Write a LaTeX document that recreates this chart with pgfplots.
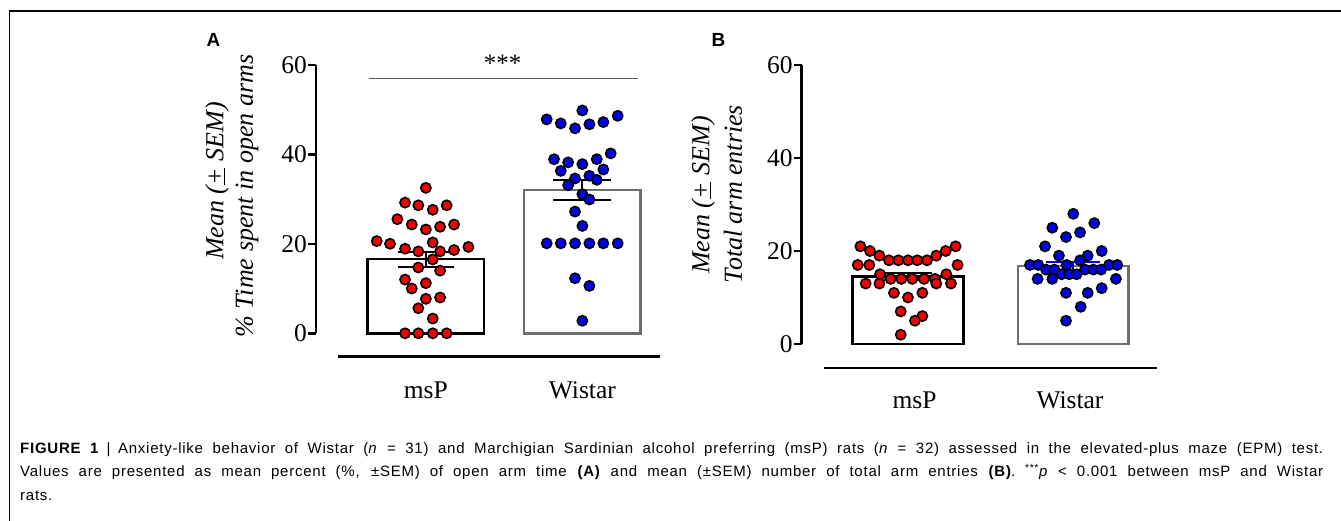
\documentclass[border=0pt]{standalone}
\usepackage{pgfplots}
\pgfplotsset{compat=1.18}
\usepackage{pgfplotstable}
\usepackage{fontspec}
\setmainfont{Liberation Serif}
\newfontfamily\arial{Liberation Sans}
\newfontfamily\arialcap[LetterSpace=5]{Liberation Sans}

\definecolor{ratred}{RGB}{240,0,0}
\definecolor{ratblue}{RGB}{0,0,235}
\definecolor{bargray}{RGB}{110,110,110}
\definecolor{sigline}{RGB}{90,90,90}

% Panel A: % time in open arms
\pgfplotstableread{
x y
1.000 32.5
0.867 29.2
0.952 28.6
1.044 27.6
1.133 28.6
0.818 25.5
0.910 24.3
1.000 23.2
1.091 23.8
1.180 24.3
0.686 20.6
0.771 20.0
1.044 20.3
0.867 18.9
0.952 18.3
1.091 18.3
1.180 18.6
1.272 19.3
1.044 16.5
0.952 14.7
1.091 14.0
0.867 12.0
1.000 11.2
0.910 10.0
1.000 7.7
1.091 8.0
0.952 5.6
1.044 3.3
0.867 0.0
0.952 0.0
1.044 0.0
1.133 0.0
}\AmsP

\pgfplotstableread{
x y
2.000 49.8
1.772 47.8
1.862 46.9
1.953 45.8
2.045 46.7
2.134 47.2
2.226 48.6
2.181 40.2
1.819 38.9
1.909 38.2
2.000 37.8
2.092 38.9
1.862 36.3
2.134 36.6
1.953 34.6
2.045 35.2
2.092 34.3
1.909 33.1
2.000 31.1
2.045 29.9
1.953 27.2
2.000 24.0
1.772 20.1
1.862 20.1
1.953 20.1
2.045 20.1
2.134 20.1
2.226 20.1
1.953 12.3
2.045 10.6
2.000 2.8
}\AWistar

% Panel B: total arm entries
\pgfplotstableread{
x y
0.712 21
0.770 20
0.827 19
0.885 18
0.942 18
1.000 18
1.056 18
1.115 18
1.171 19
1.228 20
1.288 21
0.696 17
0.766 17
1.300 17
0.831 15
1.232 15
0.895 14
0.960 14
1.026 14
1.097 14
1.163 14
0.744 13
0.827 13
1.171 13
1.260 13
0.915 11
1.087 11
1.000 10
0.956 7
1.087 6
1.042 5
0.956 2
}\BmsP

\pgfplotstableread{
x y
2.000 28
1.873 25
2.127 26
1.956 23
2.041 24
1.829 21
2.172 20
1.913 19
2.087 19
2.041 18
1.738 17
1.788 17
1.960 17
2.216 17
2.266 17
1.835 16
1.885 16
2.071 16
2.121 16
2.168 16
1.930 15
1.976 15
2.020 15
1.784 14
1.873 14
2.258 14
2.172 12
1.956 11
2.087 11
2.045 8
1.956 5
}\BWistar

\pgfplotsset{
  panel/.style={
    scale only axis, clip=false, enlargelimits=false,
    anchor=south west,
    ymin=0, ymax=60,
    axis y line*=left, axis x line*=bottom,
    x axis line style={draw=none},
    y axis line style={line width=2.5pt, black, -},
    ytick={0,20,40,60},
    tick align=outside, major tick length=8pt,
    y tick style={line width=2.5pt, black},
    x tick style={draw=none},
    xtick={1,2}, xticklabels={msP,Wistar},
    /pgf/number format/assume math mode=true,
    yticklabel style={font=\fontsize{25.5}{25.5}\selectfont, inner xsep=1pt},
    xticklabel style={font=\fontsize{25.5}{25.5}\selectfont, anchor=base},
  },
  dotsred/.style={only marks, mark=*, mark size=5.1pt,
    mark options={fill=ratred, draw=black, line width=1.6pt}},
  dotsblue/.style={only marks, mark=*, mark size=5.1pt,
    mark options={fill=ratblue, draw=black, line width=1.6pt}},
}

\begin{document}
\begin{tikzpicture}
\useasboundingbox (0,0) rectangle (1341pt,-521pt);
\fill[white] (0,0) rectangle (1341pt,-521pt);
% frame
\draw[line width=1.8pt] (9.5pt,-521pt) -- (9.5pt,-11pt) -- (1341pt,-11pt);

% ---------------- Panel A ----------------
\begin{axis}[panel,
  at={(316pt,-333.3pt)},
  x=156.5pt, y=4.475pt,
  xmin=0.298, xmax=2.5,
  xticklabel style={yshift=-56.7pt},
]
\addplot[ybar, bar width=0.743, bar shift=0pt, fill=white, draw=black, line width=2.5pt] coordinates {(1,16.6)};
\addplot[ybar, bar width=0.743, bar shift=0pt, fill=white, draw=bargray, line width=2.5pt] coordinates {(2,32.0)};
\addplot[black, mark=none, forget plot,
  error bars/.cd, y dir=both, y explicit,
  error bar style={line width=2pt, black},
  error mark options={rotate=90, mark size=28pt, line width=2pt, black}]
  coordinates {(1,16.5) +- (0,1.75)};
\addplot[black, mark=none, forget plot,
  error bars/.cd, y dir=both, y explicit,
  error bar style={line width=2pt, black},
  error mark options={rotate=90, mark size=29pt, line width=2pt, black}]
  coordinates {(2,32.05) +- (0,2.25)};
\addplot[dotsred] table {\AmsP};
\addplot[dotsblue] table {\AWistar};
\draw[line width=1pt, sigline] (axis cs:0.637,57) -- (axis cs:2.356,57);
\node[font=\fontsize{25}{25}\selectfont] at (axis cs:1.49,60.3) {***};
\draw[line width=2.5pt, black] (axis cs:0.439,-5.23) -- (axis cs:2.497,-5.23);
\end{axis}

% ---------------- Panel B ----------------
\begin{axis}[panel,
  at={(801.7pt,-344pt)},
  x=165.3pt, y=4.65pt,
  xmin=0.357, xmax=2.6,
  xtick={1.04,1.98},
  xticklabel style={yshift=-56pt},
]
\addplot[ybar, bar width=0.669, bar shift=0pt, fill=white, draw=black, line width=2.5pt] coordinates {(1,14.5)};
\addplot[ybar, bar width=0.669, bar shift=0pt, fill=white, draw=bargray, line width=2.5pt] coordinates {(2,16.8)};
\addplot[black, mark=none, forget plot,
  error bars/.cd, y dir=both, y explicit,
  error bar style={line width=2pt, black},
  error mark options={rotate=90, mark size=24pt, line width=2pt, black}]
  coordinates {(1,14.5) +- (0,0.7)};
\addplot[ratblue, mark=none, forget plot,
  error bars/.cd, y dir=both, y explicit,
  error bar style={line width=2pt, ratblue},
  error mark options={rotate=90, mark size=27pt, line width=2pt, ratblue}]
  coordinates {(2,16.8) +- (0,0.9)};
\addplot[dotsred] table {\BmsP};
\addplot[dotsblue] table {\BWistar};
\draw[line width=2.5pt, black] (axis cs:0.492,-5.2) -- (axis cs:2.505,-5.2);
\end{axis}

% axis titles
\node[rotate=90, font=\fontsize{26}{26}\selectfont\itshape] at (217pt,-181pt) {Mean (\underline{+} SEM)};
\node[rotate=90, font=\fontsize{26}{26}\selectfont\itshape] at (247pt,-196pt) {\% Time spent in open arms};
\node[rotate=90, font=\fontsize{26}{26}\selectfont\itshape] at (703pt,-195pt) {Mean (\underline{+} SEM)};
\node[rotate=90, font=\fontsize{26}{26}\selectfont\itshape] at (733pt,-194pt) {Total arm entries};

% panel letters
\node[font=\arial\bfseries\fontsize{19}{19}\selectfont] at (213.5pt,-40pt) {A};
\node[font=\arial\bfseries\fontsize{19}{19}\selectfont] at (718.5pt,-40pt) {B};

% caption
\node[anchor=north west, inner sep=0pt, text width=1303pt, align=justify,
  font=\arialcap\fontsize{15}{23.5}\selectfont] at (20pt,-442pt)
{\textbf{FIGURE 1}\enspace|\enspace Anxiety-like behavior of Wistar (\textit{n} = 31) and Marchigian Sardinian alcohol preferring (msP) rats (\textit{n} = 32) assessed in the elevated-plus maze (EPM) test.\linebreak
Values are presented as mean percent (\%, ±SEM) of open arm time \textbf{(A)} and mean (±SEM) number of total arm entries \textbf{(B)}. \textsuperscript{***}\textit{p} \textless{} 0.001 between msP and Wistar\linebreak
rats.};
\end{tikzpicture}
\end{document}
